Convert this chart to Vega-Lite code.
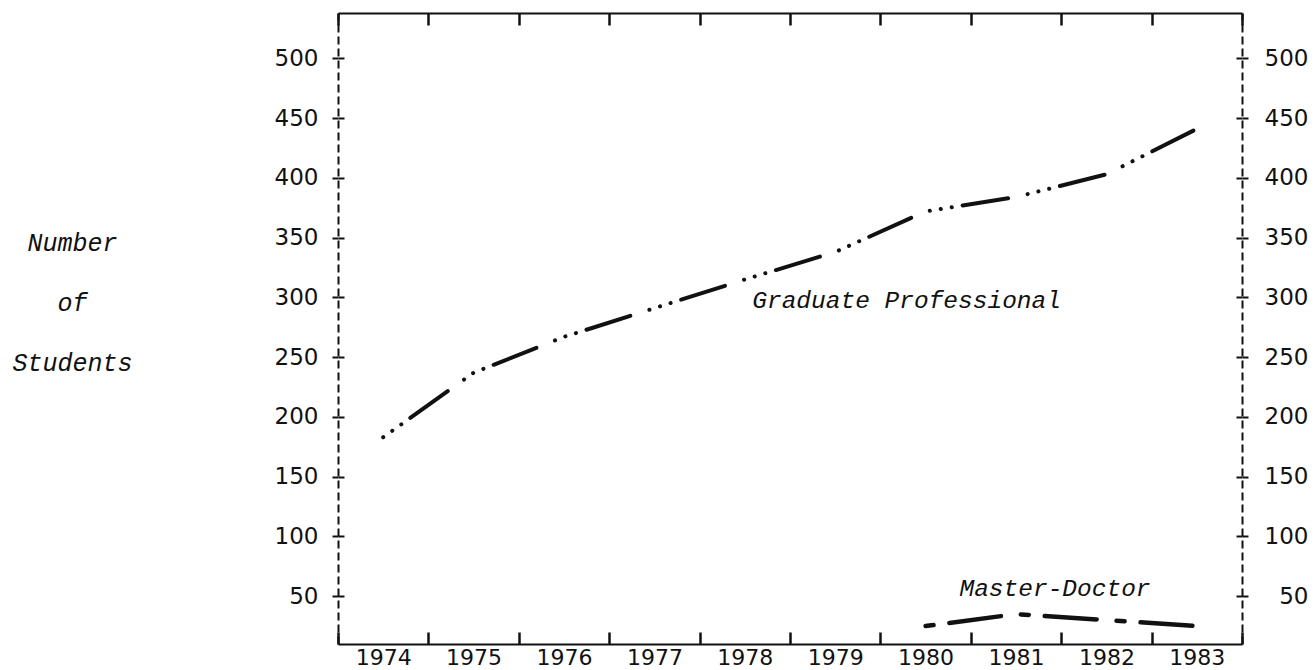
{
  "$schema": "https://vega.github.io/schema/vega-lite/v6.json",
  "width": 904,
  "height": 631,
  "autosize": {"type": "none"},
  "padding": {"left": 338, "top": 13, "right": 74, "bottom": 26},
  "background": "white",
  "config": {
    "view": {"stroke": null},
    "axis": {"labelFont": "DejaVu Sans", "labelFontSize": 23, "labelColor": "#111", "tickColor": "#111", "domainColor": "#111", "grid": false}
  },
  "datasets": {
    "grad": [
      {"year": 1974, "students": 183},
      {"year": 1975, "students": 237},
      {"year": 1976, "students": 267},
      {"year": 1977, "students": 291},
      {"year": 1978, "students": 315},
      {"year": 1979, "students": 338},
      {"year": 1980, "students": 372},
      {"year": 1981, "students": 384},
      {"year": 1982, "students": 403},
      {"year": 1983, "students": 441}
    ],
    "master": [
      {"year": 1980, "students": 25},
      {"year": 1981, "students": 35},
      {"year": 1982, "students": 30},
      {"year": 1983, "students": 25}
    ],
    "labels": [
      {"label": "Graduate Professional", "year": 1980, "students": 297},
      {"label": "Master-Doctor", "year": 1981, "students": 56}
    ]
  },
  "layer": [
    {
      "data": {"name": "grad"},
      "mark": {"type": "line", "color": "#111", "strokeWidth": 4, "strokeCap": "round", "strokeDash": [46, 20, 0.1, 11, 0.1, 11, 0.1, 11], "strokeDashOffset": 66},
      "encoding": {
        "x": {
          "field": "year", "type": "ordinal",
          "scale": {"type": "band", "paddingInner": 0, "paddingOuter": 0, "domain": [1974, 1975, 1976, 1977, 1978, 1979, 1980, 1981, 1982, 1983]},
          "axis": {"orient": "bottom", "tickBand": "extent", "tickSize": -12, "tickWidth": 2.5, "labelPadding": 15, "labelAngle": 0, "labelFontSize": 22, "domainWidth": 2, "title": null}
        },
        "y": {
          "field": "students", "type": "quantitative",
          "scale": {"domain": [10, 538], "nice": false, "zero": false},
          "axis": {
            "orient": "left", "values": [50, 100, 150, 200, 250, 300, 350, 400, 450, 500],
            "tickSize": 6, "tickWidth": 2, "labelPadding": 14, "domainDash": [8, 4], "domainWidth": 2,
            "title": ["Number", "of", "Students"], "titleAngle": 0, "titleX": -266, "titleY": 237,
            "titleAlign": "center", "titleBaseline": "alphabetic", "titleLineHeight": 60,
            "titleFont": "Liberation Mono", "titleFontStyle": "italic", "titleFontWeight": "normal", "titleFontSize": 25, "titleColor": "#111"
          }
        }
      }
    },
    {
      "data": {"name": "master"},
      "mark": {"type": "line", "color": "#111", "strokeWidth": 4.5, "strokeCap": "round", "strokeDash": [8, 16, 52, 20]},
      "encoding": {
        "x": {
          "field": "year", "type": "ordinal",
          "axis": {"orient": "top", "tickBand": "extent", "tickSize": -12, "tickWidth": 2.5, "labels": false, "domainWidth": 2, "title": null}
        },
        "y": {
          "field": "students", "type": "quantitative",
          "axis": {
            "orient": "right", "values": [50, 100, 150, 200, 250, 300, 350, 400, 450, 500],
            "tickSize": 6, "tickWidth": 2, "labelAlign": "right", "labelPadding": 60, "domainDash": [8, 4], "domainWidth": 2, "title": null
          }
        }
      }
    },
    {
      "data": {"name": "labels"},
      "transform": [{"filter": "datum.year == 1980"}],
      "mark": {"type": "text", "font": "Liberation Mono", "fontStyle": "italic", "fontSize": 24.5, "color": "#111", "align": "center", "baseline": "middle", "dx": -19},
      "encoding": {
        "text": {"field": "label"},
        "x": {"field": "year", "type": "ordinal", "axis": null},
        "y": {
          "field": "students", "type": "quantitative",
          "axis": {"orient": "left", "values": [50, 100, 150, 200, 250, 300, 350, 400, 450, 500], "tickSize": -6, "tickWidth": 2, "labels": false, "domain": false, "title": null}
        }
      }
    },
    {
      "data": {"name": "labels"},
      "transform": [{"filter": "datum.year == 1981"}],
      "mark": {"type": "text", "font": "Liberation Mono", "fontStyle": "italic", "fontSize": 24.5, "color": "#111", "align": "center", "baseline": "middle", "dx": 39},
      "encoding": {
        "text": {"field": "label"},
        "x": {"field": "year", "type": "ordinal", "axis": null},
        "y": {
          "field": "students", "type": "quantitative",
          "axis": {"orient": "right", "values": [50, 100, 150, 200, 250, 300, 350, 400, 450, 500], "tickSize": -6, "tickWidth": 2, "labels": false, "domain": false, "title": null}
        }
      }
    }
  ],
  "resolve": {"axis": {"x": "independent", "y": "independent"}}
}
